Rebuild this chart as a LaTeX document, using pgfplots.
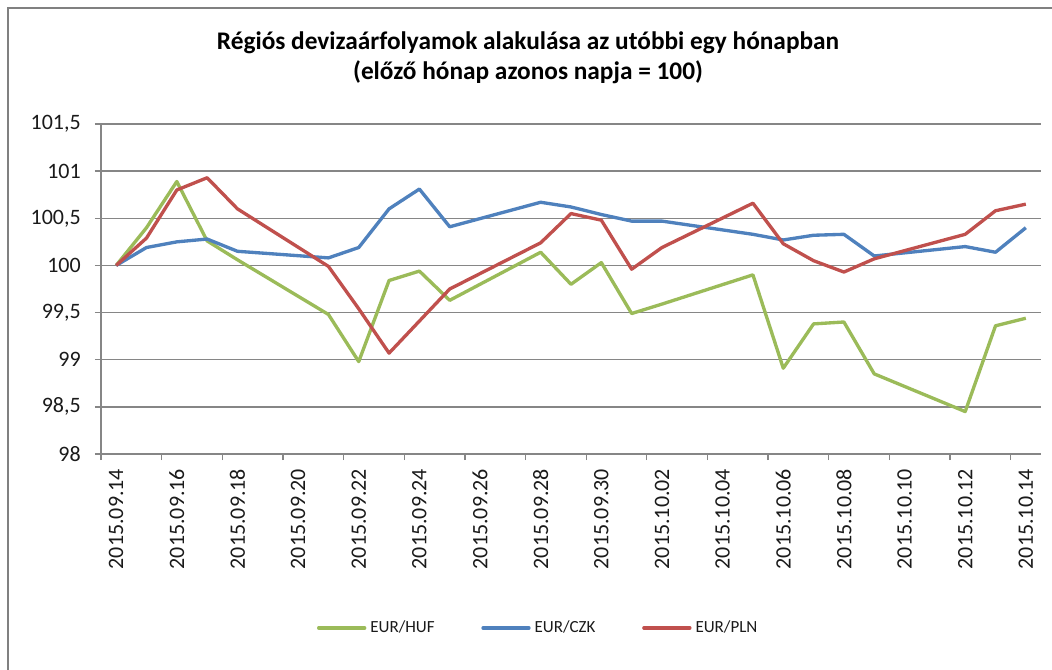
\documentclass[border=0pt]{standalone}
\usepackage{fontspec}
\setmainfont{Carlito}
\usepackage{pgfplots}
\pgfplotsset{compat=1.18}
\usepackage{pgfplotstable}
\definecolor{huf}{HTML}{9BBB59}
\definecolor{czk}{HTML}{4F81BD}
\definecolor{pln}{HTML}{C0504D}
\definecolor{gridgray}{HTML}{868686}
\definecolor{txt}{HTML}{1A1A1A}

\pgfplotstableread{
x y
0 100
1 100.40
2 100.89
3 100.26
4 100.06
7 99.48
8 98.98
9 99.84
10 99.94
11 99.63
14 100.14
15 99.80
16 100.03
17 99.49
18 99.59
21 99.90
22 98.91
23 99.38
24 99.40
25 98.85
28 98.45
29 99.36
30 99.44
}\hufdata

\pgfplotstableread{
x y
0 100
1 100.19
2 100.25
3 100.28
4 100.15
7 100.08
8 100.19
9 100.60
10 100.81
11 100.41
14 100.67
15 100.62
16 100.54
17 100.47
18 100.47
21 100.33
22 100.27
23 100.32
24 100.33
25 100.10
28 100.20
29 100.14
30 100.40
}\czkdata

\pgfplotstableread{
x y
0 100
1 100.29
2 100.80
3 100.93
4 100.60
7 99.99
8 99.54
9 99.07
10 99.41
11 99.75
14 100.24
15 100.55
16 100.48
17 99.96
18 100.19
21 100.66
22 100.23
23 100.05
24 99.93
25 100.07
28 100.33
29 100.58
30 100.65
}\plndata

\begin{document}
\begin{tikzpicture}[x=1pt,y=1pt]
\draw[gray, line width=1.5pt] (6,-502.5) -- (6,-6) -- (789,-6);
\node[anchor=base, inner sep=0pt, font=\fontsize{19}{23}\selectfont\bfseries, text=black] at (396,-37) {Régiós devizaárfolyamok alakulása az utóbbi egy hónapban};
\node[anchor=base, inner sep=0pt, font=\fontsize{19}{23}\selectfont\bfseries, text=black] at (396,-60) {(előző hónap azonos napja = 100)};
\begin{axis}[
  at={(75.75pt,-340.5pt)}, anchor=south west,
  scale only axis, width=705pt, height=247.5pt,
  xmin=-0.5, xmax=30.5, ymin=98, ymax=101.5,
  axis x line=bottom, axis y line=left,
  axis line style={gridgray, line width=1pt, -},
  xtick={-0.5,1.5,...,29.5}, xticklabels={},
  extra x ticks={0,2,4,6,8,10,12,14,16,18,20,22,24,26,28,30},
  extra x tick labels={2015.09.14,2015.09.16,2015.09.18,2015.09.20,2015.09.22,2015.09.24,2015.09.26,2015.09.28,2015.09.30,2015.10.02,2015.10.04,2015.10.06,2015.10.08,2015.10.10,2015.10.12,2015.10.14},
  extra x tick style={major tick length=0pt, xticklabel style={rotate=90, anchor=east}},
  xticklabel shift=11pt,
  ytick={98,98.5,99,99.5,100,100.5,101,101.5},
  yticklabel shift=10.5pt,
  ymajorgrids, grid style={gridgray, line width=1pt},
  tick align=outside, major tick length=4.5pt,
  tick style={gridgray, line width=1pt},
  xticklabel style={font=\fontsize{16.5}{20}\selectfont, text=txt, inner sep=0pt},
  yticklabel style={font=\fontsize{16.5}{20}\selectfont, text=txt, inner sep=0pt, anchor=east},
  /pgf/number format/use comma,
  /pgf/number format/assume math mode=true,
  legend columns=3,
  legend image code/.code={\draw[#1, line width=2.5pt, line cap=round] (0pt,0pt) -- (34.5pt,0pt);},
  legend style={at={(0.2298,-0.527)}, anchor=west, draw=none, fill=none,
    inner sep=0pt, outer sep=0pt, font=\fontsize{12.75}{15}\selectfont, text=txt,
    nodes={inner sep=0pt}, column sep=3pt,
    /tikz/every even column/.append style={column sep=35pt}},
  clip=false,
]
\addplot[huf, line width=2.5pt, line join=round, no markers] table[x=x,y=y]{\hufdata};
\addlegendentry{EUR/HUF}
\addplot[czk, line width=2.5pt, line join=round, no markers] table[x=x,y=y]{\czkdata};
\addlegendentry{EUR/CZK}
\addplot[pln, line width=2.5pt, line join=round, no markers] table[x=x,y=y]{\plndata};
\addlegendentry{EUR/PLN}
\end{axis}
\pgfresetboundingbox
\path[use as bounding box] (0pt,0pt) rectangle (789pt,-502.5pt);
\end{tikzpicture}
\end{document}
